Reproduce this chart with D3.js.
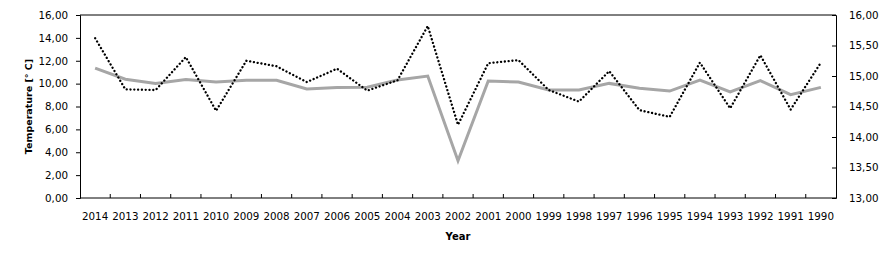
<!DOCTYPE html>
<html>
<head>
<meta charset="utf-8">
<script src="https://cdn.jsdelivr.net/npm/d3@7"></script>
<style>
  body { margin: 0; background: #fff; }
  text { font-family: "DejaVu Sans", Verdana, sans-serif; fill: #000; }
  .axis path, .axis line { stroke: #000; }
</style>
</head>
<body>
<script>
 ///////////////////////////////////////////////////////
 // data

 var years = ["2014", "2013", "2012", "2011", "2010", "2009", "2008", "2007", "2006",
   "2005", "2004", "2003", "2002", "2001", "2000", "1999", "1998", "1997", "1996",
   "1995", "1994", "1993", "1992", "1991", "1990"];
 // solid grey line, left axis
 var localTemp = [11.35, 10.38, 10.02, 10.37, 10.14, 10.29, 10.29, 9.53, 9.67,
   9.68, 10.31, 10.66, 3.26, 10.23, 10.14, 9.44, 9.44, 10.02, 9.59,
   9.35, 10.31, 9.27, 10.26, 9.03, 9.67];
 // dotted black line, right axis
 var globalTemp = [15.62, 14.78, 14.77, 15.31, 14.43, 15.25, 15.16, 14.90, 15.12,
   14.76, 14.93, 15.82, 14.20, 15.21, 15.26, 14.77, 14.58, 15.08, 14.44,
   14.33, 15.22, 14.47, 15.34, 14.45, 15.22];
 var leftTicks = [0, 2, 4, 6, 8, 10, 12, 14, 16];
 var rightTicks = [13, 13.5, 14, 14.5, 15, 15.5, 16];

 ///////////////////////////////////////////////////////
 // margins

 var w = 889;
 var h = 262;
 var svg = d3.select("body").append("svg")
   .attr("width", w)
   .attr("height", h),
   margin = { top: 15, bottom: 64, left: 80, right: 53 },
   width = w - margin.left - margin.right,
   height = h - margin.top - margin.bottom;

 ///////////////////////////////////////////////////////
 // scales

 var x = d3.scaleBand().domain(years).range([0, width]);
 var yLeft = d3.scaleLinear().domain([0, 16]).range([height, 0]);
 var yRight = d3.scaleLinear().domain([13, 16]).range([height, 0]);
 var comma = function(d) { return d.toFixed(2).replace(".", ","); };

 var chart = svg.append("g")
   .attr("transform", "translate(" + margin.left + "," + margin.top + ")");

 ///////////////////////////////////////////////////////
 // axes

 var xAxis = chart.append("g")
   .classed("axis x", true)
   .attr("transform", "translate(0," + height + ")")
   .call(d3.axisBottom(x).tickSize(0).tickPadding(15));
 // ticks sit on band edges, pointing up into the plot
 xAxis.selectAll(".edge")
   .data(years.slice(1))
   .enter().append("line")
   .attr("x1", function(d) { return x(d); })
   .attr("x2", function(d) { return x(d); })
   .attr("y1", 0).attr("y2", -4)
   .attr("stroke", "#000");
 xAxis.select(".domain").attr("d", "M0,0H" + width);

 chart.append("g")
   .classed("axis y", true)
   .call(d3.axisLeft(yLeft).tickValues(leftTicks).tickFormat(comma).tickSizeOuter(0).tickSize(4).tickPadding(8));
 chart.append("g")
   .classed("axis y2", true)
   .attr("transform", "translate(" + width + ",0)")
   .call(d3.axisRight(yRight).tickValues(rightTicks).tickFormat(comma).tickSizeOuter(0).tickSize(-4).tickPadding(13));

 chart.selectAll(".axis text").style("font-size", "10.3px").style("font-family", "DejaVu Sans, sans-serif");
 chart.selectAll(".axis.y2 .tick line").filter(function(d) { return d === 13 || d === 16; }).remove();
 chart.selectAll(".axis.y .tick line").filter(function(d) { return d === 0; }).remove();

 // top border of the plot area
 chart.append("line")
   .attr("x1", 0).attr("x2", width)
   .attr("y1", 0).attr("y2", 0)
   .attr("stroke", "#000");

 // axis titles
 chart.append("text")
   .text("Year")
   .attr("x", width / 2)
   .attr("y", height + 42)
   .attr("text-anchor", "middle")
   .style("font-weight", "bold")
   .style("font-size", "10px");
 chart.append("text")
   .text("Temperature [° C]")
   .attr("transform", "translate(" + (-48) + "," + height / 2 + ") rotate(-90)")
   .attr("text-anchor", "middle")
   .style("font-weight", "bold")
   .style("font-size", "9.5px");

 ///////////////////////////////////////////////////////
 // lines

 var cx = function(d, i) { return x(years[i]) + x.bandwidth() / 2; };
 var lineLeft = d3.line().x(cx).y(function(d) { return yLeft(d); });
 var lineRight = d3.line().x(cx).y(function(d) { return yRight(d); });

 chart.append("path")
   .datum(localTemp)
   .attr("d", lineLeft)
   .attr("fill", "none")
   .attr("stroke", "#a6a6a6")
   .attr("stroke-width", 3);

 chart.append("path")
   .datum(globalTemp)
   .attr("d", lineRight)
   .attr("fill", "none")
   .attr("stroke", "#000")
   .attr("stroke-width", 2.3)
   .attr("stroke-linecap", "round")
   .attr("stroke-dasharray", "0.1 3.7");
</script>
</body>
</html>
